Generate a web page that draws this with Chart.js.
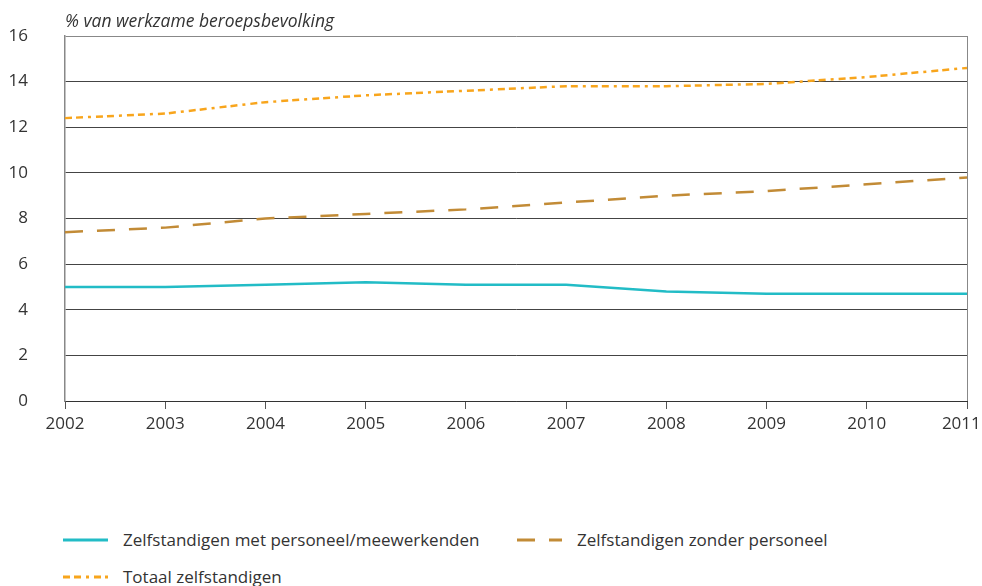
<!DOCTYPE html>
<html lang="nl">
<head>
    <meta charset="UTF-8">
    <title>Zelfstandigen</title>
    <style>
        body { margin: 0; background: #fff; font-family: "Open Sans", sans-serif; }
        #wrap { position: relative; width: 982px; height: 586px; }
        #chartBox { position: absolute; left: 0; top: 0; width: 982px; height: 450px; }
        .legend-item { position: absolute; display: flex; align-items: center; font-size: 17px; color: #333; white-space: nowrap; }
        .legend-item canvas { margin-right: 15px; }
    </style>
</head>
<body>
<div id="wrap">
    <div id="chartBox"><canvas id="chart"></canvas></div>
    <div id="legend"></div>
</div>

<script src="https://cdn.jsdelivr.net/npm/chart.js"></script>
<script>
    const years = ['2002', '2003', '2004', '2005', '2006', '2007', '2008', '2009', '2010', '2011'];
    const metPersoneel = [5.0, 5.0, 5.1, 5.2, 5.1, 5.1, 4.8, 4.7, 4.7, 4.7];
    const zonderPersoneel = [7.4, 7.6, 8.0, 8.2, 8.4, 8.7, 9.0, 9.2, 9.5, 9.8];
    const totaal = [12.4, 12.6, 13.1, 13.4, 13.6, 13.8, 13.8, 13.9, 14.2, 14.6];
    const seriesNames = ['Zelfstandigen met personeel/meewerkenden', 'Zelfstandigen zonder personeel', 'Totaal zelfstandigen'];
    const yTitle = '% van werkzame beroepsbevolking';

    // title above the plot, left aligned with the y axis
    const unitLabel = {
        id: 'unitLabel',
        afterDraw(chart) {
            const c = chart.ctx;
            c.save();
            c.font = 'italic 17.5px "Open Sans"';
            c.fillStyle = '#333';
            c.textBaseline = 'bottom';
            c.fillText(yTitle, chart.chartArea.left, chart.chartArea.top - 5);
            c.restore();
        }
    };

    const ctx = document.getElementById('chart').getContext('2d');
    const chart = new Chart(ctx, {
        type: 'line',
        data: {
            labels: years,
            datasets: [
                { label: seriesNames[0], data: metPersoneel, borderColor: '#22bcc6', borderWidth: 2.5 },
                { label: seriesNames[1], data: zonderPersoneel, borderColor: '#c28b36', borderWidth: 2.5, borderDash: [18, 14] },
                { label: seriesNames[2], data: totaal, borderColor: '#f8a51c', borderWidth: 2.5, borderDash: [7, 4, 7, 5, 3, 5] }
            ]
        },
        options: {
            responsive: true,
            maintainAspectRatio: false,
            animation: false,
            elements: { point: { radius: 0 }, line: { tension: 0 } },
            layout: { padding: { top: 36, right: 15, left: 0, bottom: 0 } },
            plugins: { legend: { display: false }, tooltip: { enabled: false } },
            scales: {
                x: {
                    offset: false,
                    afterFit: s => { s.height = 49; s.paddingLeft = 0; s.paddingRight = 0; },
                    grid: {
                        color: c => c.index === years.length - 1 ? '#888' : 'rgba(0,0,0,0)',
                        tickColor: '#555',
                        tickLength: 8
                    },
                    border: { color: '#333', width: 1 },
                    ticks: {
                        color: '#333',
                        font: { family: 'Open Sans', size: 17 },
                        padding: 5,
                        maxRotation: 0,
                        // last label nudged left so it stays inside the page
                        callback: (v, i) => i === years.length - 1 ? years[i] + '\u2002\u2009' : years[i]
                    }
                },
                y: {
                    min: 0,
                    max: 16,
                    afterFit: s => { s.width = 65; s.paddingTop = 0; s.paddingBottom = 0; },
                    grid: { color: c => c.tick.value === 16 ? '#888' : '#444', drawTicks: false },
                    border: { color: '#888', width: 1.5 },
                    ticks: { stepSize: 2, color: '#333', font: { family: 'Open Sans', size: 17 }, padding: 37 }
                }
            }
        },
        plugins: [unitLabel]
    });

    // legend in html, laid out like the original
    const legendPos = [[63, 528], [517, 528], [63, 565]];
    const legendEl = document.getElementById('legend');
    chart.data.datasets.forEach((ds, i) => {
        const item = document.createElement('div');
        item.className = 'legend-item';
        item.style.left = legendPos[i][0] + 'px';
        item.style.top = legendPos[i][1] + 'px';
        const sw = document.createElement('canvas');
        sw.width = 45; sw.height = 10;
        const g = sw.getContext('2d');
        g.strokeStyle = ds.borderColor;
        g.lineWidth = 3;
        g.setLineDash(ds.borderDash || []);
        g.beginPath(); g.moveTo(0, 5); g.lineTo(45, 5); g.stroke();
        const txt = document.createElement('span');
        txt.textContent = ds.label;
        item.appendChild(sw);
        item.appendChild(txt);
        legendEl.appendChild(item);
    });
</script>
</body>
</html>
